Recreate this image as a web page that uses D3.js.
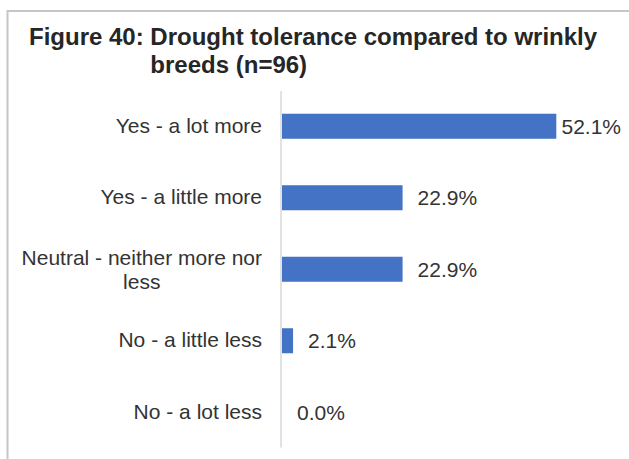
<!DOCTYPE html>
<html>
<head>
<meta charset="utf-8">
<script src="https://cdn.jsdelivr.net/npm/d3@7"></script>
<style>
  html, body { margin: 0; padding: 0; background: #ffffff; }
  svg { display: block; font-family: "Liberation Sans", Arial, sans-serif; }
</style>
</head>
<body>
<svg id="chart" width="629" height="459"></svg>
<script>
const titleLines = ["Figure 40: Drought tolerance compared to wrinkly", "breeds (n=96)"];
const categories = ["Yes - a lot more", "Yes - a little more", "Neutral - neither more nor less", "No - a little less", "No - a lot less"];
const values = [52.1, 22.9, 22.9, 2.1, 0.0];
const valueLabels = ["52.1%", "22.9%", "22.9%", "2.1%", "0.0%"];

const svg = d3.select("#chart");
const W = 629, H = 459;

// frame (top and left edges visible)
svg.append("line").attr("x1", 7.5).attr("x2", W).attr("y1", 11).attr("y2", 11)
  .attr("stroke", "#c6c6c6").attr("stroke-width", 2);
svg.append("line").attr("x1", 7.5).attr("x2", 7.5).attr("y1", 10).attr("y2", H)
  .attr("stroke", "#c6c6c6").attr("stroke-width", 2);

// title
const title = svg.append("text").attr("font-weight", "bold").attr("font-size", 24).attr("fill", "#262626");
title.append("tspan").attr("x", 29).attr("y", 45).text(titleLines[0]);
// hanging indent aligned after "Figure 40: "
const probe = svg.append("text").attr("font-weight", "bold").attr("font-size", 24).attr("xml:space", "preserve").text("Figure 40: ");
const indent = probe.node().getComputedTextLength();
probe.remove();
title.append("tspan").attr("x", 29 + indent).attr("y", 72.5).text(titleLines[1]);

const x = d3.scaleLinear().domain([0, 60]).range([282, 282 + 60 * 5.265]);
const y = d3.scaleBand().domain(categories).range([90.5, 448]).paddingInner(0.65).paddingOuter(0.325);

// bars
svg.append("g").selectAll("rect").data(values).join("rect")
  .attr("x", x(0))
  .attr("y", (d, i) => y(categories[i]))
  .attr("width", d => x(d) - x(0))
  .attr("height", y.bandwidth())
  .attr("fill", "#4472c4");

// category axis
const axisG = svg.append("g").attr("transform", `translate(${x(0) - 1},0)`)
  .call(d3.axisLeft(y).tickSize(0).tickPadding(19));
axisG.select(".domain").remove();
axisG.selectAll("text").attr("font-size", 21).attr("fill", "#333333")
  .attr("font-family", "Liberation Sans, Arial, sans-serif");

svg.append("line").attr("x1", x(0) - 1).attr("x2", x(0) - 1).attr("y1", 91).attr("y2", 447.5)
  .attr("stroke", "#d9d9d9").attr("stroke-width", 1.5);

// wrap long labels, centered lines, block right-aligned
const maxW = 250, lh = 24;
axisG.selectAll(".tick text").each(function() {
  const t = d3.select(this);
  const full = t.text();
  const words = full.split(" ");
  t.text(null);
  const lines = [];
  let cur = [];
  const ts = t.append("tspan");
  for (const w of words) {
    cur.push(w);
    ts.text(cur.join(" "));
    if (ts.node().getComputedTextLength() > maxW && cur.length > 1) {
      cur.pop();
      lines.push(cur.join(" "));
      cur = [w];
    }
  }
  lines.push(cur.join(" "));
  ts.remove();
  if (lines.length === 1) {
    t.text(lines[0]);
    return;
  }
  const tx = +t.attr("x");
  // measure widths
  const widths = lines.map(l => { const p = t.append("tspan").text(l); const wv = p.node().getComputedTextLength(); p.remove(); return wv; });
  const bw = d3.max(widths);
  t.attr("text-anchor", "middle").attr("dy", null);
  const cx = tx - bw / 2;
  const n = lines.length;
  lines.forEach((l, i) => {
    t.append("tspan").attr("x", cx).attr("y", (i - (n - 1) / 2) * lh).attr("dy", "0.35em").text(l);
  });
});

// value labels
const vl = svg.append("g").selectAll("text").data(values).join("text")
  .attr("font-size", 21).attr("fill", "#333333")
  .attr("y", (d, i) => y(categories[i]) + y.bandwidth() / 2)
  .attr("dy", "0.35em")
  .text((d, i) => valueLabels[i]);
vl.each(function(d) {
  const wv = this.getComputedTextLength();
  const px = Math.min(x(d) + 15, 621 - wv);
  d3.select(this).attr("x", px);
});
</script>
</body>
</html>
